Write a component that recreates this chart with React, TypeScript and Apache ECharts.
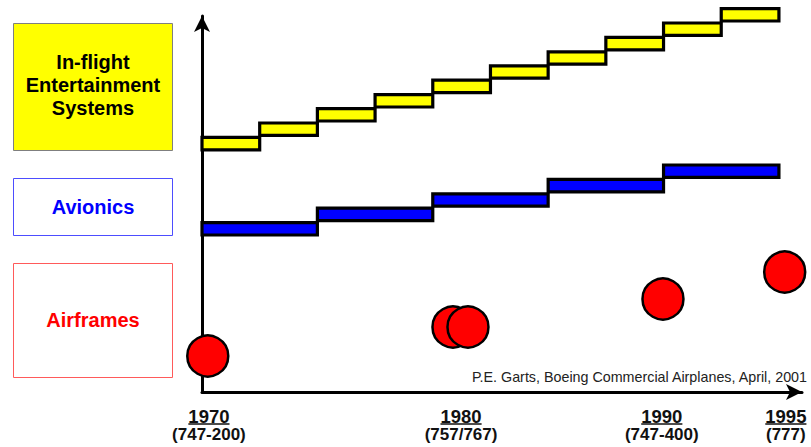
import React, { useEffect, useRef } from "react";
import * as echarts from "echarts";

// Step index units along the time axis (one in-flight entertainment step = 1 unit)
const ifeLevels = [62.1, 65.7, 69.3, 72.8, 76.4, 80.0, 83.5, 87.1, 90.7, 94.3];
const avionicsLevels = [40.8, 44.4, 48.0, 51.6, 55.2];
const airframeX = [0.1, 4.35, 4.61, 7.99, 10.1];
const airframeY = [9.0, 16.25, 16.25, 23.25, 30.0];
const yearLabels = ["1970", "1980", "1990", "1995"];
const modelLabels = ["(747-200)", "(757/767)", "(747-400)", "(777)"];
const yearX = [0.12, 4.49, 7.97, 10.12];
const creditText = "P.E. Garts, Boeing Commercial Airplanes, April, 2001";

const FONT = "'Liberation Sans', Arial, sans-serif";

export default function App() {
  const ref = useRef<HTMLDivElement>(null);
  useEffect(() => {
    if (!ref.current) return;
    const chart = echarts.init(ref.current, undefined, { renderer: "svg" });
    const thickness = 3.1;
    const stepRender = (fill: string) => (params: any, api: any) => {
      const x0 = api.value(0);
      const x1 = api.value(1);
      const y = api.value(2);
      const p0 = api.coord([x0, y]);
      const p1 = api.coord([x1, y]);
      const h = api.size([0, thickness])[1];
      return {
        type: "rect",
        shape: { x: p0[0], y: p0[1] - h / 2, width: p1[0] - p0[0], height: h },
        style: { fill, stroke: "#000", lineWidth: 3.2, lineJoin: "miter" },
      };
    };
    const option: any = {
      animation: false,
      backgroundColor: "#ffffff",
      grid: { left: 202, top: 16, right: 9, bottom: 55 },
      xAxis: {
        type: "value",
        min: 0,
        max: 10.4,
        axisLine: {
          show: true,
          onZero: false,
          symbol: ["none", "arrow"],
          symbolSize: [12, 16],
          lineStyle: { color: "#000", width: 3 },
        },
        axisTick: { show: false },
        axisLabel: { show: false },
        splitLine: { show: false },
      },
      yAxis: {
        type: "value",
        min: 0,
        max: 94,
        axisLine: {
          show: true,
          onZero: false,
          symbol: ["none", "arrow"],
          symbolSize: [12, 16],
          lineStyle: { color: "#000", width: 3 },
        },
        axisTick: { show: false },
        axisLabel: { show: false },
        splitLine: { show: false },
      },
      series: [
        {
          type: "custom",
          name: "In-flight Entertainment Systems",
          renderItem: stepRender("#ffff00"),
          data: ifeLevels.map((v, i) => [i, i + 1, v]),
          clip: false,
          z: 3,
        },
        {
          type: "custom",
          name: "Avionics",
          renderItem: stepRender("#0000ff"),
          data: avionicsLevels.map((v, i) => [2 * i, 2 * i + 2, v]),
          clip: false,
          z: 3,
        },
        {
          type: "scatter",
          name: "Airframes",
          symbol: "circle",
          symbolSize: 41,
          clip: false,
          itemStyle: { color: "#ff0000", borderColor: "#000", borderWidth: 2.5, opacity: 1 },
          data: airframeX.map((x, i) => [x, airframeY[i]]),
          z: 4,
        },
        {
          type: "custom",
          name: "labels",
          clip: false,
          data: yearX.map((x) => [x, 0]),
          renderItem: (params: any, api: any) => {
            const p = api.coord([api.value(0), 0]);
            const i = params.dataIndex;
            const yearFont = `bold 18.5px ${FONT}`;
            const w = (echarts.format as any).getTextRect
              ? (echarts.format as any).getTextRect(yearLabels[i], yearFont).width
              : 41;
            return {
              type: "group",
              children: [
                {
                  type: "text",
                  x: p[0],
                  y: p[1] + 24,
                  style: {
                    text: yearLabels[i],
                    font: yearFont,
                    fill: "#111",
                    align: "center",
                    verticalAlign: "middle",
                  },
                },
                {
                  type: "line",
                  shape: { x1: p[0] - w / 2, y1: p[1] + 32, x2: p[0] + w / 2, y2: p[1] + 32 },
                  style: { stroke: "#111", lineWidth: 1.6 },
                },
                {
                  type: "text",
                  x: p[0],
                  y: p[1] + 42.5,
                  style: {
                    text: modelLabels[i],
                    font: `bold 17px ${FONT}`,
                    fill: "#111",
                    align: "center",
                    verticalAlign: "middle",
                  },
                },
              ],
            };
          },
        },
      ],
      graphic: [
        {
          type: "rect",
          shape: { x: 13.5, y: 23.5, width: 159, height: 127 },
          style: { fill: "#ffff00", stroke: "#7f7f7f", lineWidth: 1 },
        },
        {
          type: "text",
          x: 93,
          y: 85,
          style: {
            text: "In-flight\nEntertainment\nSystems",
            font: `bold 20px ${FONT}`,
            lineHeight: 23,
            fill: "#000",
            align: "center",
            verticalAlign: "middle",
          },
        },
        {
          type: "rect",
          shape: { x: 13.5, y: 178.5, width: 159, height: 57 },
          style: { fill: "#ffffff", stroke: "#4d4dff", lineWidth: 1 },
        },
        {
          type: "text",
          x: 93,
          y: 207,
          style: {
            text: "Avionics",
            font: `bold 20px ${FONT}`,
            fill: "#0000ff",
            align: "center",
            verticalAlign: "middle",
          },
        },
        {
          type: "rect",
          shape: { x: 13.5, y: 263.5, width: 159, height: 114 },
          style: { fill: "#ffffff", stroke: "#ff5a5a", lineWidth: 1 },
        },
        {
          type: "text",
          x: 93,
          y: 320,
          style: {
            text: "Airframes",
            font: `bold 20px ${FONT}`,
            fill: "#ff0000",
            align: "center",
            verticalAlign: "middle",
          },
        },
        {
          type: "text",
          x: 807,
          y: 377,
          style: {
            text: creditText,
            font: `14.3px ${FONT}`,
            fill: "#222",
            align: "right",
            verticalAlign: "middle",
          },
        },
      ],
    };
    chart.setOption(option);
    return () => chart.dispose();
  }, []);
  return (
    <div
      ref={ref}
      style={{ position: "fixed", left: 0, top: 0, width: 811, height: 447, background: "#fff" }}
    />
  );
}
